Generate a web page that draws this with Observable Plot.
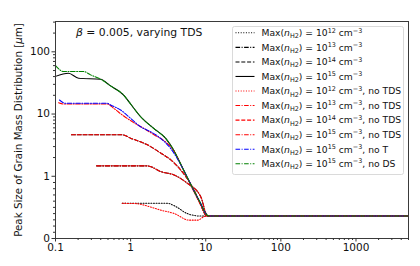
<!DOCTYPE html>
<html><head><meta charset="utf-8">
<script src="https://cdn.jsdelivr.net/npm/d3@7"></script>
<script src="https://cdn.jsdelivr.net/npm/@observablehq/plot@0.6"></script>
<style>
body{margin:0;background:#fff}
#chart svg{font-family:"DejaVu Sans",sans-serif;overflow:visible}
</style>
</head><body><div id="chart"></div><script>
// ---- tick labels ----
const xTicks = [0.1, 1, 10, 100, 1000];
const xTickLabels = ["0.1", "1", "10", "100", "1000"];
const yTicks = [0, 1, 10, 100];
const yTickLabels = ["0", "1", "10", "100"];
const titleText = ["β", " = 0.005, varying TDS"];
const yLabel = ["Peak Size of Grain Mass Distribution [", "μ", "m]"];

// ---- series meta ----
const seriesExp = [12, 13, 14, 15, 12, 13, 14, 15, 15, 15];
const seriesSuffix = ["", "", "", "", ", no TDS", ", no TDS", ", no TDS", ", no TDS", ", no T", ", no DS"];
const seriesColor = ["#000", "#000", "#000", "#000", "#ff0000", "#ff0000", "#ff0000", "#ff0000", "#0000ff", "#008000"];
const seriesStyle = ["dotted", "dashdot", "dashed", "solid", "dotted", "dashdot", "dashed", "dashdot", "dashdot", "dashdot"];

// ---- series values (x: time-like axis, y: peak size in micron) ----
const x12 = [0.774, 3.1, 3.9, 5.7, 8.6, 5000];
const y12 = [0.565, 0.565, 0.52, 0.40, 0.36, 0.36];
const x13 = [0.352, 1.67, 2.51, 3.78, 5.7, 8.58, 10.6, 5000];
const y13 = [1.47, 1.47, 1.19, 1.05, 0.887, 0.672, 0.36, 0.36];
const x14 = [0.163, 0.774, 1.0, 1.67, 2.6, 3.4, 4.64, 6.98, 8.58, 10.3, 5000];
const y14 = [4.64, 4.64, 4.1, 3.2, 2.3, 1.85, 1.26, 0.779, 0.537, 0.36, 0.36];
const x15 = [0.1, 0.149, 0.203, 0.398, 0.541, 0.807, 1.0, 1.36, 2.03, 2.93, 3.63, 5.09, 6.92, 8.58, 10, 10.97, 5000];
const y15 = [40.3, 45.3, 37.7, 36.3, 28.3, 20.2, 14.5, 9.05, 5.88, 4.06, 2.80, 1.25, 0.774, 0.56, 0.40, 0.36, 0.36];
const x12n = [0.774, 1.2, 1.5, 2.51, 3.78, 5.98, 7.82, 9.7, 10.97, 5000];
const y12n = [0.565, 0.56, 0.537, 0.456, 0.403, 0.295, 0.295, 0.355, 0.36, 0.36];
const x13n = [0.352, 1.67, 2.51, 3.78, 5.7, 8.58, 10.6, 5000];
const y13n = [1.47, 1.47, 1.19, 1.05, 0.887, 0.672, 0.36, 0.36];
const x14n = [0.163, 0.774, 1.0, 1.67, 2.6, 3.4, 4.64, 6.98, 8.58, 10.3, 5000];
const y14n = [4.64, 4.64, 4.1, 3.2, 2.3, 1.85, 1.26, 0.779, 0.537, 0.36, 0.36];
const x15n = [0.110, 0.128, 0.489, 0.598, 0.81, 1.10, 1.50, 2.05, 2.78, 3.63, 5.09, 6.92, 8.58, 10, 10.97, 5000];
const y15n = [15.2, 14.5, 14.5, 12.3, 9.29, 7.29, 5.88, 4.64, 3.74, 2.72, 1.23, 0.758, 0.54, 0.395, 0.36, 0.36];
const x15T = [0.113, 0.136, 0.489, 0.541, 0.736, 1.0, 1.36, 1.85, 2.51, 3.41, 5.09, 6.92, 8.58, 10, 10.97, 5000];
const y15T = [16.8, 14.9, 14.9, 14.0, 11.6, 8.53, 6.24, 5.18, 4.06, 2.80, 1.25, 0.774, 0.56, 0.40, 0.36, 0.36];
const x15D = [0.1, 0.129, 0.238, 0.293, 0.398, 0.541, 0.807, 1.0, 1.36, 2.03, 2.93, 3.63, 5.09, 6.92, 8.58, 10, 10.97, 5000];
const y15D = [60.1, 48.1, 48.1, 42.6, 36.3, 28.3, 20.2, 14.5, 9.05, 5.88, 4.06, 2.80, 1.25, 0.774, 0.56, 0.40, 0.36, 0.36];

const seriesX = [x12, x13, x14, x15, x12n, x13n, x14n, x15n, x15T, x15D];
const seriesY = [y12, y13, y14, y15, y12n, y13n, y14n, y15n, y15T, y15D];

// symmetric-log style position: linear below 1, one decade per unit above
const T = v => v <= 1 ? v : 1 + Math.log10(v);
const dash = {solid: null, dotted: "1,1.6", dashed: "4,1.8", dashdot: "4.6,1.5,1,1.5"};

const tables = seriesX.map((xs, i) => xs.map((x, j) => ({x, y: seriesY[i][j]})));

const minorX = [];
for (let e = -1; e <= 3; e++) for (let m = 2; m <= 9; m++) { const v = m * 10 ** e; if (v <= 5000) minorX.push(+v.toPrecision(3)); }
const minorY = [];
for (let m = 1; m <= 9; m++) minorY.push(m / 10);
for (let e = 0; e <= 2; e++) for (let m = 2; m <= 9; m++) { const v = m * 10 ** e; if (v <= 300) minorY.push(v); }

const W = 420, H = 266;
const plot = Plot.plot({
  width: W, height: H,
  marginLeft: 55, marginRight: 12, marginTop: 21, marginBottom: 28,
  style: {fontFamily: "DejaVu Sans", fontSize: "10.5px", color: "#111", background: "#fff"},
  x: {type: "log", domain: [0.1, 5000]},
  y: {type: "linear", domain: [0, T(300) + 0.01]},
  marks: [
    ...tables.map((t, i) => Plot.line(t, {
      x: "x", y: d => T(d.y), stroke: seriesColor[i], strokeWidth: 1.05,
      strokeDasharray: dash[seriesStyle[i]], curve: "monotone-x"
    })),
    Plot.frame({stroke: "#3a3a3a", strokeWidth: 1}),
    Plot.axisX(xTicks, {tickSize: 3.5, tickPadding: 2, tickFormat: (d) => xTickLabels[xTicks.indexOf(d)], label: null, stroke: "#333", fontSize: 10.5}),
    Plot.axisX(minorX, {tickSize: 2, tickFormat: () => "", label: null, stroke: "#333"}),
    Plot.axisY(yTicks.map(T), {tickSize: 3.5, tickPadding: 2, tickFormat: d => yTickLabels[yTicks.map(T).indexOf(d)], label: null, stroke: "#333", fontSize: 10.5}),
    Plot.axisY(minorY.map(T), {tickSize: 2, tickFormat: () => "", label: null, stroke: "#333"})
  ]
});
document.getElementById("chart").appendChild(plot);

const svg = d3.select(plot);
// title inside plot
const tt = svg.append("text").attr("x", 76).attr("y", 36).attr("font-size", 10.8).attr("fill", "#111").attr("text-anchor", "start");
tt.append("tspan").attr("font-style", "italic").text(titleText[0]);
tt.append("tspan").text(titleText[1]);

// y label
const yl = svg.append("text").attr("transform", "translate(22,130) rotate(-90)")
  .attr("text-anchor", "middle").attr("font-size", 10.3).attr("fill", "#111");
yl.append("tspan").text(yLabel[0]);
yl.append("tspan").attr("font-style", "italic").text(yLabel[1]);
yl.append("tspan").text(yLabel[2]);

// legend
const lg = svg.append("g").attr("text-anchor", "start");
lg.append("rect").attr("x", 232.5).attr("y", 26.5).attr("width", 171).attr("height", 148)
  .attr("rx", 2).attr("fill", "#fff").attr("fill-opacity", 0.85).attr("stroke", "#d0d0d0").attr("stroke-width", 0.8);
const fs = 9.2;
seriesExp.forEach((e, i) => {
  const cy = 32.8 + i * 14.55;
  lg.append("line").attr("x1", 235.5).attr("x2", 254.5).attr("y1", cy).attr("y2", cy)
    .attr("stroke", seriesColor[i]).attr("stroke-width", 1.05)
    .attr("stroke-dasharray", dash[seriesStyle[i]]);
  const t = lg.append("text").attr("x", 261.5).attr("y", cy + 3.3).attr("font-size", fs).attr("fill", "#111");
  t.append("tspan").text("Max(");
  t.append("tspan").attr("font-style", "italic").text("n");
  t.append("tspan").attr("font-size", fs * 0.7).attr("dy", 2.2).text("H2");
  t.append("tspan").attr("dy", -2.2).text(") = 10");
  t.append("tspan").attr("font-size", fs * 0.7).attr("dy", -3.6).text(String(e));
  t.append("tspan").attr("dy", 3.6).text(" cm");
  t.append("tspan").attr("font-size", fs * 0.7).attr("dy", -3.6).text("−3");
  t.append("tspan").attr("dy", 3.6).text(seriesSuffix[i]);
});
</script></body></html>
